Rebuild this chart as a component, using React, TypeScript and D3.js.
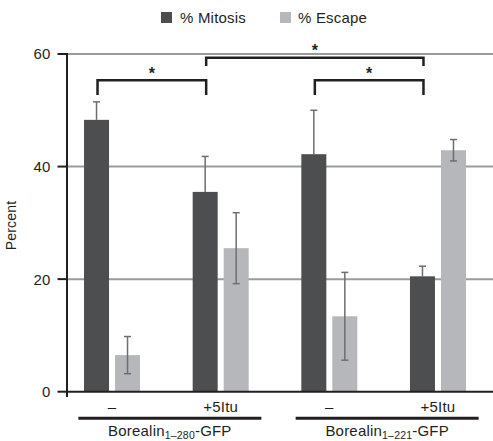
import React from "react";
import * as d3 from "d3";

const categories = ["Borealin280_-", "Borealin280_+5Itu", "Borealin221_-", "Borealin221_+5Itu"];
const categoryLabels = ["–", "+5Itu", "–", "+5Itu"];
const seriesNames = ["% Mitosis", "% Escape"];
const mitosis = [48.3, 35.5, 42.2, 20.5];
const mitosisErr = [3.2, 6.3, 7.8, 1.8];
const escape = [6.5, 25.5, 13.4, 42.9];
const escapeErr = [3.3, 6.3, 7.8, 1.9];
const yTicks = [0, 20, 40, 60];
const groups = [
  { main: "Borealin", sub: "1–280", tail: "-GFP", cats: [0, 1] },
  { main: "Borealin", sub: "1–221", tail: "-GFP", cats: [2, 3] },
];
// significance brackets between mitosis bars
const brackets = [
  { a: 0, b: 1, level: 0 },
  { a: 2, b: 3, level: 0 },
  { a: 1, b: 3, level: 1 },
];

const colors = ["#4d4e50", "#b6b7ba"];
const W = 493;
const H = 441;
const font = "'Liberation Sans', Arial, Helvetica, sans-serif";
const FS = 15;
const LS = 0.2;

export default function App() {
  const y = d3.scaleLinear().domain([0, 60]).range([391.7, 54]);
  const x0 = d3.scaleBand<string>().domain(categories).range([57.7, 492.3]).padding(0);
  const inner = 56;
  const x1 = d3.scaleBand<string>().domain(seriesNames).range([0, inner]).paddingInner(2 - inner / 31);
  const catLeft = (i: number) => (x0(categories[i]) as number) + (x0.bandwidth() - inner) / 2;
  const barX = (i: number, s: number) => catLeft(i) + (x1(seriesNames[s]) as number);
  const bw = x1.bandwidth();
  const axisX = 67;
  const data = [mitosis, escape];
  const errs = [mitosisErr, escapeErr];

  const errBar = (i: number, s: number, upOnly: boolean) => {
    const cx = barX(i, s) + bw / 2;
    const v = data[s][i];
    const e = errs[s][i];
    const top = y(v + e);
    const bot = upOnly ? y(v) : y(v - e);
    return (
      <g key={`e${s}-${i}`} stroke="#6d6e71" strokeWidth={1.5}>
        <line x1={cx} x2={cx} y1={top} y2={bot} />
        <line x1={cx - 3.5} x2={cx + 3.5} y1={top} y2={top} />
        {!upOnly && <line x1={cx - 3.5} x2={cx + 3.5} y1={bot} y2={bot} />}
      </g>
    );
  };

  const bracketY = [80.3, 57.7];
  const legBottom = [95, 66];
  const starY = [74, 51];

  return (
    <svg width={W} height={H} style={{ position: "absolute", left: 0, top: 0 }} fontFamily={font}>
      {/* legend */}
      <g fontSize={FS} fill="#231f20" letterSpacing={LS}>
        <rect x={161} y={12} width={11} height={11} fill={colors[0]} />
        <text x={180} y={23}>{seriesNames[0]}</text>
        <rect x={280} y={12} width={11} height={11} fill={colors[1]} />
        <text x={298} y={23}>{seriesNames[1]}</text>
      </g>
      {/* gridlines */}
      {yTicks.filter((t) => t > 0).map((t) => (
        <line key={`g${t}`} x1={axisX} x2={W} y1={y(t)} y2={y(t)} stroke="#9a9b9d" strokeWidth={2} />
      ))}
      {/* mitosis error bars (behind bars) */}
      {categories.map((_, i) => errBar(i, 0, true))}
      {/* bars */}
      {categories.map((c, i) =>
        seriesNames.map((s, si) => (
          <rect
            key={`${c}-${s}`}
            x={barX(i, si)}
            y={y(data[si][i])}
            width={bw}
            height={y(0) - y(data[si][i])}
            fill={colors[si]}
          />
        ))
      )}
      {categories.map((_, i) => errBar(i, 1, false))}
      {/* axes */}
      <line x1={axisX} x2={axisX} y1={y(60) - 1} y2={397} stroke="#231f20" strokeWidth={2} />
      <line x1={axisX - 1} x2={W} y1={y(0)} y2={y(0)} stroke="#231f20" strokeWidth={2} />
      {yTicks.map((t) => (
        <g key={`t${t}`}>
          <line x1={57.5} x2={axisX} y1={y(t)} y2={y(t)} stroke="#231f20" strokeWidth={2} />
          <text x={50.5} y={y(t)} dy="0.36em" textAnchor="end" fontSize={FS} fill="#231f20" letterSpacing={LS}>
            {t}
          </text>
        </g>
      ))}
      <text
        transform={`translate(16,225.5) rotate(-90)`}
        textAnchor="middle"
        fontSize={14}
        fill="#231f20"
        letterSpacing={LS}
      >
        Percent
      </text>
      {/* category labels */}
      {categories.map((c, i) => (
        <text
          key={`cl${c}`}
          x={catLeft(i) + inner / 2}
          y={412}
          textAnchor="middle"
          fontSize={FS}
          fill="#231f20"
          letterSpacing={LS}
        >
          {categoryLabels[i]}
        </text>
      ))}
      {/* group lines and labels */}
      {groups.map((g, gi) => {
        const c = (catLeft(g.cats[0]) + catLeft(g.cats[1]) + inner) / 2 + 3.5;
        return (
          <g key={`grp${gi}`}>
            <line x1={c - 91.5} x2={c + 91.5} y1={418.3} y2={418.3} stroke="#231f20" strokeWidth={3} />
            <text x={c} y={436} textAnchor="middle" fontSize={FS} fill="#231f20" letterSpacing={LS}>
              {g.main}
              <tspan fontSize={10.5} dy={3}>{g.sub}</tspan>
              <tspan dy={-3}>{g.tail}</tspan>
            </text>
          </g>
        );
      })}
      {/* significance brackets */}
      {brackets.map((b, bi) => {
        const xa = barX(b.a, 0) + bw / 2 + 1;
        const xb = barX(b.b, 0) + bw / 2 + 1;
        const yt = bracketY[b.level];
        const yb = legBottom[b.level];
        return (
          <g key={`br${bi}`}>
            <path
              d={`M${xa},${yb}V${yt}H${xb}V${yb}`}
              fill="none"
              stroke="#231f20"
              strokeWidth={2.5}
            />
            <text x={(xa + xb) / 2} y={starY[b.level] + 5} textAnchor="middle" fontSize={16} fontWeight="bold" fill="#231f20">
              *
            </text>
          </g>
        );
      })}
    </svg>
  );
}
